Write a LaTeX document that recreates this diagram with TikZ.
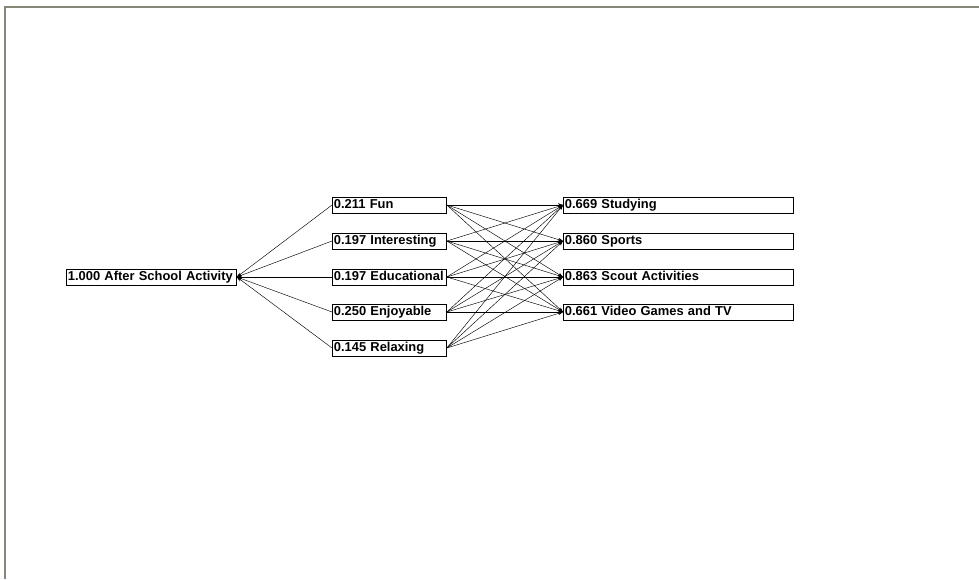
\documentclass[tikz,border=0pt]{standalone}
\usepackage{fontspec}
\setmainfont{Liberation Sans}
\usetikzlibrary{arrows.meta}
\definecolor{framegray}{RGB}{135,135,120}

\begin{document}
\begin{tikzpicture}[x=1pt,y=-1pt,
  box/.style={draw, line width=0.8pt, anchor=west, minimum height=16pt, inner xsep=1.5pt, inner ysep=0pt, align=left, text height=9.5pt, text depth=2.5pt, font=\bfseries\fontsize{12.9}{14}\selectfont},
  link/.style={line width=0.45pt, -{Stealth[length=5pt,width=3.5pt]}}]
\useasboundingbox (0,0) rectangle (979,579);
\draw [framegray, line width=2pt] (4.5,579) -- (4.5,6.5) -- (979,6.5);
% goal
\node [box, text width=167pt] (goal) at (66,277) {1.000 After School Activity};
% criteria
\node [box, text width=111pt] (fun) at (332,205) {0.211 Fun};
\node [box, text width=111pt] (interesting) at (332,241) {0.197 Interesting};
\node [box, text width=111pt] (educational) at (332,277) {0.197 Educational};
\node [box, text width=111pt] (enjoyable) at (332,312) {0.250 Enjoyable};
\node [box, text width=111pt] (relaxing) at (332,348) {0.145 Relaxing};
% alternatives
\node [box, text width=227pt] (studying) at (563,205) {0.669 Studying};
\node [box, text width=227pt] (sports) at (563,241) {0.860 Sports};
\node [box, text width=227pt] (scout) at (563,277) {0.863 Scout Activities};
\node [box, text width=227pt] (video) at (563,312) {0.661 Video Games and TV};
\foreach \c in {fun,interesting,educational,enjoyable,relaxing}{
  \draw [link] (\c.west) -- (goal.east);
  \foreach \a in {studying,sports,scout,video}
    \draw [link] (\c.east) -- (\a.west);
}
\end{tikzpicture}
\end{document}
